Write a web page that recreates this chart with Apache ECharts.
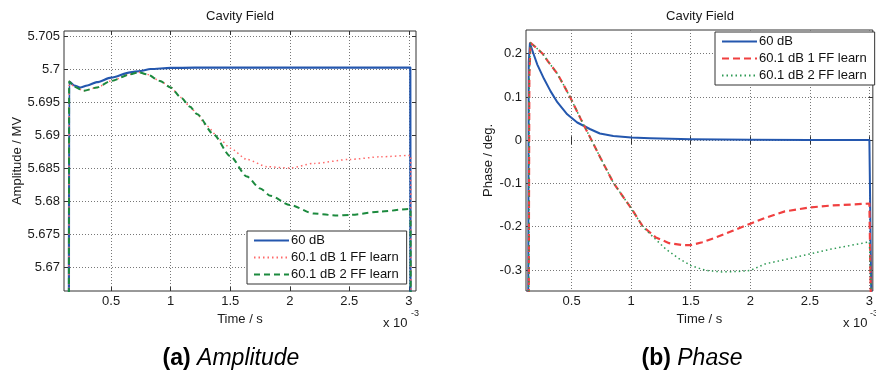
<!DOCTYPE html>
<html>
<head>
<meta charset="utf-8">
<script src="https://cdn.jsdelivr.net/npm/echarts@6/dist/echarts.min.js"></script>
<style>
html,body{margin:0;padding:0;background:#fff;}
#chart{width:876px;height:373px;}
</style>
</head>
<body>
<div id="chart"></div>
<script>
// ---------- data (time in units of 1e-3 s) ----------
const seriesNames = ['60 dB', '60.1 dB 1 FF learn', '60.1 dB 2 FF learn'];
const xTicks = [0.5, 1, 1.5, 2, 2.5, 3];
const ampTicks = [5.67, 5.675, 5.68, 5.685, 5.69, 5.695, 5.7, 5.705];
const phaseTicks = [-0.3, -0.2, -0.1, 0, 0.1, 0.2];

// Amplitude / MV
const ampTime60 = [0.145, 0.147, 0.19, 0.24, 0.30, 0.38, 0.50, 0.66, 0.746, 0.83, 1.0, 1.2, 1.5, 2.0, 2.5, 3.012, 3.014];
const amp60     = [5.660, 5.6982, 5.6976, 5.6973, 5.6976, 5.6981, 5.6988, 5.6996, 5.6998, 5.7001, 5.70026, 5.7003, 5.7003, 5.7003, 5.7003, 5.7003, 5.660];

const ampTime1FF = [0.145, 0.147, 0.19, 0.27, 0.38, 0.50, 0.66, 0.73, 0.80, 0.91, 1.0, 1.085, 1.163, 1.22, 1.30, 1.417, 1.5, 1.64, 1.81, 2.0, 2.203, 2.5, 2.765, 3.0, 3.016, 3.018];
const amp1FF     = [5.660, 5.6982, 5.6974, 5.6968, 5.6973, 5.6983, 5.6993, 5.6996, 5.6993, 5.6983, 5.6973, 5.6958, 5.6944, 5.6933, 5.6915, 5.6894, 5.6881, 5.6864, 5.6853, 5.6851, 5.6858, 5.6864, 5.6868, 5.6870, 5.6870, 5.660];

const ampTime2FF = [0.145, 0.147, 0.19, 0.27, 0.38, 0.50, 0.66, 0.73, 0.80, 0.91, 1.0, 1.085, 1.163, 1.22, 1.36, 1.5, 1.64, 1.752, 1.838, 2.0, 2.203, 2.40, 2.5, 2.765, 3.0, 3.014, 3.016];
const amp2FF     = [5.660, 5.6982, 5.6974, 5.6968, 5.6973, 5.6983, 5.6993, 5.6996, 5.6993, 5.6983, 5.6973, 5.6958, 5.6944, 5.6933, 5.6902, 5.6869, 5.6838, 5.6820, 5.6809, 5.6795, 5.6782, 5.6779, 5.6780, 5.6785, 5.6789, 5.6789, 5.660];

// Phase / deg.
const phaseTime60 = [0.136, 0.140, 0.150, 0.18, 0.212, 0.268, 0.324, 0.38, 0.463, 0.547, 0.653, 0.737, 0.85, 1.0, 1.16, 1.5, 2.0, 2.5, 3.0, 3.014, 3.016];
const phase60     = [-0.36, 0.18, 0.224, 0.200, 0.175, 0.142, 0.113, 0.088, 0.060, 0.041, 0.026, 0.0155, 0.010, 0.0062, 0.0046, 0.002, 0.001, 0.0008, 0.0008, 0.0008, -0.36];

const phaseTime1FF = [0.140, 0.145, 0.155, 0.212, 0.257, 0.30, 0.38, 0.44, 0.492, 0.575, 0.66, 0.737, 0.848, 0.93, 1.0, 1.097, 1.208, 1.319, 1.43, 1.5, 1.597, 1.708, 1.847, 2.0, 2.125, 2.29, 2.5, 2.68, 3.0, 3.010, 3.012];
const phase1FF     = [-0.36, 0.15, 0.225, 0.2116, 0.200, 0.183, 0.154, 0.124, 0.097, 0.050, 0.004, -0.038, -0.097, -0.130, -0.157, -0.199, -0.225, -0.238, -0.2425, -0.2425, -0.236, -0.225, -0.210, -0.193, -0.1795, -0.1645, -0.1555, -0.151, -0.1464, -0.146, -0.36];

const phaseTime2FF = [0.140, 0.145, 0.155, 0.212, 0.257, 0.30, 0.38, 0.44, 0.492, 0.575, 0.66, 0.737, 0.848, 0.93, 1.0, 1.097, 1.15, 1.29, 1.4025, 1.5, 1.625, 1.763, 1.9, 2.0, 2.125, 2.29, 2.5, 2.68, 3.0, 3.014, 3.016];
const phase2FF     = [-0.36, 0.15, 0.225, 0.2116, 0.200, 0.183, 0.154, 0.124, 0.097, 0.050, 0.004, -0.038, -0.097, -0.130, -0.157, -0.200, -0.2145, -0.2516, -0.274, -0.2895, -0.301, -0.3045, -0.3035, -0.301, -0.286, -0.276, -0.263, -0.2516, -0.235, -0.234, -0.36];

// ---------- chart ----------
const FONT = 'Liberation Sans, Arial, Helvetica, sans-serif';
const TXT = '#1a1a1a';
const zip = (xs, ys) => xs.map((x, i) => [x, ys[i]]);
const fmtX = v => String(+(+v).toFixed(2));

function xAx(gridIndex, pos, min, max, withLabels) {
  return {
    type: 'value', gridIndex, position: pos, min, max,
    name: withLabels ? 'Time / s' : '',
    nameLocation: 'middle', nameGap: 17,
    nameTextStyle: { fontFamily: FONT, fontSize: 13, color: TXT, verticalAlign: 'top' },
    axisLine: { show: false },
    axisTick: { show: true, inside: true, length: 4, customValues: xTicks, lineStyle: { color: '#333' } },
    axisLabel: { show: withLabels, customValues: xTicks, margin: 4, formatter: fmtX,
                 fontFamily: FONT, fontSize: 13, color: TXT },
    splitLine: { show: withLabels, lineStyle: { color: '#777', type: [1, 2], width: 1 } }
  };
}
function yAx(gridIndex, pos, min, max, ticks, name, gap, digits, withLabels) {
  return {
    type: 'value', gridIndex, position: pos, min, max,
    name: withLabels ? name : '',
    nameLocation: 'middle', nameGap: gap,
    nameTextStyle: { fontFamily: FONT, fontSize: 13, color: TXT },
    axisLine: { show: false },
    axisTick: { show: true, inside: true, length: 4, customValues: ticks, lineStyle: { color: '#333' } },
    axisLabel: { show: withLabels, customValues: ticks, margin: 4,
                 formatter: v => String(+(+v).toFixed(digits)),
                 fontFamily: FONT, fontSize: 13, color: TXT },
    splitLine: { show: withLabels, lineStyle: { color: '#777', type: [1, 2], width: 1 } }
  };
}

function line(name, xi, yi, data, color, width, type, smooth) {
  return {
    type: 'line', name, xAxisIndex: xi, yAxisIndex: yi, data,
    symbol: 'none', showSymbol: false, smooth: smooth, smoothMonotone: 'x',
    clip: true, animation: false,
    lineStyle: { color, width, type, join: 'round', cap: 'butt' }, itemStyle: { color }
  };
}

const BLUE = '#2457ae', RED = '#f04040', RED_L = '#ff6a6a', GREEN = '#1c8a3e', GREEN_L = '#2f9a55';
const ampNames = seriesNames.map(n => 'A|' + n);
const phNames = seriesNames.map(n => 'P|' + n);

const legendCommon = {
  orient: 'vertical', padding: [3, 8, 3, 6], itemWidth: 35, itemHeight: 14, itemGap: 4,
  borderColor: '#333', borderWidth: 1, backgroundColor: '#fff',
  itemStyle: { opacity: 0, color: 'rgba(0,0,0,0)', borderWidth: 0 },
  textStyle: { fontFamily: FONT, fontSize: 13, color: '#111', padding: [0, 0, 0, -3] },
  formatter: n => n.split('|')[1], selectedMode: false
};

const titleStyle = { fontFamily: FONT, fontSize: 13, fontWeight: 'normal', color: TXT };
const capRich = {
  b: { fontFamily: FONT, fontSize: 23, fontWeight: 'bold', color: '#333' },
  i: { fontFamily: FONT, fontSize: 23, fontStyle: 'italic', color: '#333' }
};

const option = {
  animation: false,
  backgroundColor: '#fff',
  title: [
    { text: 'Cavity Field', left: 240, top: 10, textAlign: 'center', padding: 0, textStyle: titleStyle },
    { text: 'Cavity Field', left: 700, top: 10, textAlign: 'center', padding: 0, textStyle: titleStyle }
  ],
  grid: [
    { left: 64, top: 31, width: 352, height: 260, show: true, borderColor: '#333', borderWidth: 1, backgroundColor: '#fff' },
    { left: 526, top: 30, width: 349, height: 261, show: true, borderColor: '#333', borderWidth: 1, backgroundColor: '#fff' }
  ],
  xAxis: [
    xAx(0, 'bottom', 0.104, 3.06, true),
    xAx(0, 'top', 0.104, 3.06, false),
    xAx(1, 'bottom', 0.117, 3.029, true),
    xAx(1, 'top', 0.117, 3.029, false)
  ],
  yAxis: [
    yAx(0, 'left', 5.66647, 5.70586, ampTicks, 'Amplitude / MV', 40, 3, true),
    yAx(0, 'right', 5.66647, 5.70586, ampTicks, '', 0, 3, false),
    yAx(1, 'left', -0.3486, 0.2549, phaseTicks, 'Phase / deg.', 31, 1, true),
    yAx(1, 'right', -0.3486, 0.2549, phaseTicks, '', 0, 1, false)
  ],
  legend: [
    Object.assign({}, legendCommon, { left: 247, top: 231, data: ampNames }),
    Object.assign({}, legendCommon, { left: 715, top: 32, data: phNames })
  ],
  series: [
    line(ampNames[0], 0, 0, zip(ampTime60, amp60), BLUE, 2.2, 'solid', 0.25),
    line(ampNames[1], 0, 0, zip(ampTime1FF, amp1FF), RED_L, 1.5, [1.5, 3], 0.25),
    line(ampNames[2], 0, 0, zip(ampTime2FF, amp2FF), GREEN, 2, [6, 4], 0.25),
    line(phNames[0], 2, 2, zip(phaseTime60, phase60), BLUE, 2, 'solid', false),
    line(phNames[1], 2, 2, zip(phaseTime1FF, phase1FF), RED, 2.2, [7, 4], false),
    line(phNames[2], 2, 2, zip(phaseTime2FF, phase2FF), GREEN_L, 1.5, [1.5, 3], false)
  ],
  graphic: [
    { type: 'text', left: 383, top: 317, style: { text: 'x 10', fontFamily: FONT, fontSize: 13, fill: TXT } },
    { type: 'text', left: 411, top: 309, style: { text: '-3', fontFamily: FONT, fontSize: 9, fill: TXT } },
    { type: 'text', left: 843, top: 317, style: { text: 'x 10', fontFamily: FONT, fontSize: 13, fill: TXT } },
    { type: 'text', left: 870, top: 309, style: { text: '-3', fontFamily: FONT, fontSize: 9, fill: TXT } },
    { type: 'text', x: 231, y: 359, style: { text: '{b|(a) }{i|Amplitude}', align: 'center', verticalAlign: 'middle', rich: capRich } },
    { type: 'text', x: 692, y: 359, style: { text: '{b|(b) }{i|Phase}', align: 'center', verticalAlign: 'middle', rich: capRich } }
  ]
};

const chart = echarts.init(document.getElementById('chart'), null, { renderer: 'canvas' });
chart.setOption(option);
</script>
</body>
</html>
